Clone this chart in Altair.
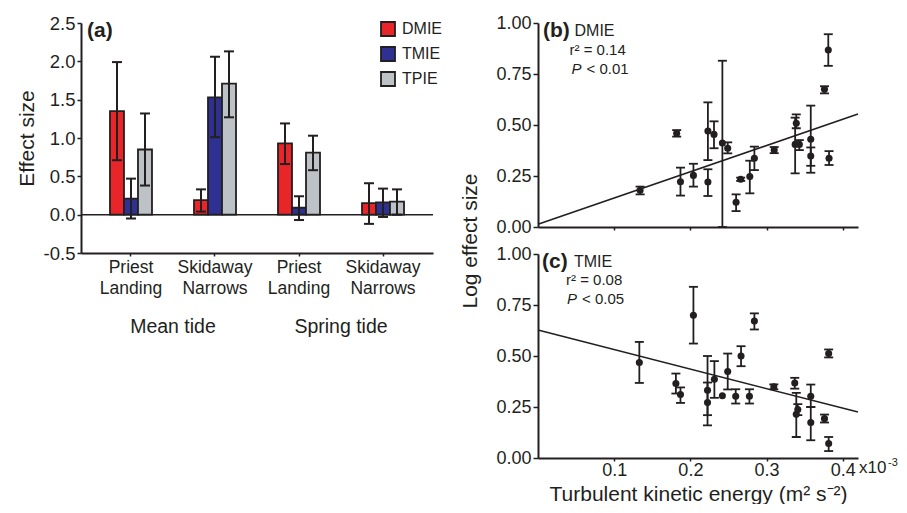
import altair as alt
import pandas as pd

FONT = "Liberation Sans"
INK = "#231F20"

# ---------------- panel (a) data ----------------
tides = ["Mean tide", "Mean tide", "Spring tide", "Spring tide"]
sites = ["Priest Landing", "Skidaway Narrows", "Priest Landing", "Skidaway Narrows"]
series = ["DMIE", "TMIE", "TPIE"]
series_colors = ["#E8262A", "#2E3192", "#BDC2C6"]

dmie = [1.35, 0.19, 0.93, 0.15]
dmie_lo = [0.71, 0.04, 0.66, -0.12]
dmie_hi = [1.99, 0.33, 1.19, 0.41]
tmie = [0.21, 1.53, 0.09, 0.16]
tmie_lo = [-0.05, 1.01, -0.07, -0.03]
tmie_hi = [0.47, 2.06, 0.24, 0.34]
tpie = [0.85, 1.71, 0.81, 0.17]
tpie_lo = [0.38, 1.27, 0.58, 0.00]
tpie_hi = [1.32, 2.13, 1.03, 0.33]

y_ticks_a = [-0.5, 0.0, 0.5, 1.0, 1.5, 2.0, 2.5]

# ---------------- panel (b) DMIE data ----------------
b_tke = [0.134, 0.182, 0.187, 0.204, 0.223, 0.223, 0.231, 0.242, 0.249, 0.260, 0.266,
         0.278, 0.284, 0.310, 0.339, 0.3375, 0.343, 0.358, 0.358, 0.376, 0.382, 0.381]
b_val = [0.180, 0.459, 0.222, 0.253, 0.470, 0.221, 0.454, 0.412, 0.386, 0.121, 0.234,
         0.247, 0.337, 0.377, 0.508, 0.405, 0.405, 0.430, 0.348, 0.675, 0.337, 0.868]
b_lo = [0.160, 0.443, 0.154, 0.198, 0.328, 0.152, 0.386, 0.000, 0.361, 0.078, 0.226,
        0.165, 0.279, 0.362, 0.484, 0.263, 0.377, 0.266, 0.300, 0.655, 0.304, 0.790]
b_hi = [0.198, 0.475, 0.291, 0.310, 0.611, 0.283, 0.518, 0.815, 0.415, 0.160, 0.242,
        0.325, 0.394, 0.392, 0.552, 0.536, 0.426, 0.595, 0.390, 0.690, 0.372, 0.945]

# ---------------- panel (c) TMIE data ----------------
c_tke = [0.133, 0.181, 0.187, 0.204, 0.2225, 0.2225, 0.2315, 0.242, 0.249, 0.2595, 0.2665,
         0.2775, 0.284, 0.3095, 0.337, 0.339, 0.341, 0.358, 0.358, 0.376, 0.3815, 0.3815]
c_val = [0.468, 0.365, 0.311, 0.700, 0.332, 0.272, 0.386, 0.305, 0.424, 0.303, 0.500,
         0.303, 0.671, 0.349, 0.368, 0.214, 0.238, 0.303, 0.174, 0.193, 0.512, 0.071]
c_lo = [0.368, 0.316, 0.270, 0.561, 0.210, 0.160, 0.295, 0.305, 0.336, 0.267, 0.450,
        0.267, 0.630, 0.337, 0.340, 0.103, 0.210, 0.250, 0.087, 0.174, 0.493, 0.034]
c_hi = [0.569, 0.414, 0.346, 0.839, 0.500, 0.370, 0.475, 0.305, 0.512, 0.337, 0.548,
        0.337, 0.709, 0.361, 0.393, 0.319, 0.264, 0.360, 0.250, 0.213, 0.532, 0.103]

# regression lines (end points)
fit_tke = [0.0, 0.42]
b_fit = [0.013, 0.554]
c_fit = [0.627, 0.225]

x_ticks_bc = [0.1, 0.2, 0.3, 0.4]
y_ticks_bc = [0.0, 0.25, 0.5, 0.75, 1.0]

# ---------------- build panel (a) ----------------
cats = [t + "|" + s for t, s in zip(tides, sites)]
rows = []
for name, v, lo, hi in [("DMIE", dmie, dmie_lo, dmie_hi),
                        ("TMIE", tmie, tmie_lo, tmie_hi),
                        ("TPIE", tpie, tpie_lo, tpie_hi)]:
    for i, c in enumerate(cats):
        rows.append({"cat": c, "series": name, "value": v[i], "lo": lo[i], "hi": hi[i]})
df_a = pd.DataFrame(rows)

xa_scale = alt.Scale(domain=cats, paddingInner=0.5, paddingOuter=0.345)
xa_axis = alt.Axis(title=None, labelAngle=0,
                   labelExpr="split(split(datum.value, '|')[1], ' ')",
                   labelFontSize=17.5, labelLineHeight=21, tickSize=3, labelPadding=2)
ya_scale = alt.Scale(domain=[-0.5, 2.5], nice=False)
ya_axis = alt.Axis(title="Effect size", values=y_ticks_a,
                   labelExpr="datum.value < 0 ? '-' + format(-datum.value, '.1f') : format(datum.value, '.1f')",
                   labelFontSize=18.5, tickSize=4, labelPadding=2,
                   titleFontSize=21, titlePadding=6)
xoff = alt.XOffset("series:N", scale=alt.Scale(domain=series, paddingInner=0, paddingOuter=0))
XA = alt.X("cat:N", scale=xa_scale, axis=xa_axis)

bars = alt.Chart(df_a).mark_bar(stroke=INK, strokeWidth=1.8).encode(
    x=XA, xOffset=xoff,
    y=alt.Y("value:Q", scale=ya_scale, axis=ya_axis),
    y2=alt.datum(0),
    color=alt.Color("series:N", scale=alt.Scale(domain=series, range=series_colors),
                    legend=alt.Legend(title=None, orient="none", legendX=299, legendY=-2,
                                      symbolType="square", symbolSize=196,
                                      symbolStrokeColor=INK, symbolStrokeWidth=1.8,
                                      symbolOpacity=1, labelFontSize=16, labelFont=FONT,
                                      labelColor=INK, rowPadding=3, labelOffset=6, padding=0)),
)
zero_line = alt.Chart(pd.DataFrame({"z": [0.0]})).mark_rule(color=INK, strokeWidth=1.5).encode(
    y=alt.Y("z:Q", scale=ya_scale, axis=ya_axis))
err_a = alt.Chart(df_a).mark_rule(color=INK, strokeWidth=2).encode(
    x=XA, xOffset=xoff,
    y=alt.Y("lo:Q", scale=ya_scale, axis=ya_axis), y2="hi:Q")
cap_a = alt.Chart(df_a).transform_fold(["lo", "hi"], as_=["end", "v"]).mark_tick(
    color=INK, thickness=2, size=10, orient="horizontal", opacity=1).encode(
    x=XA, xOffset=xoff, y=alt.Y("v:Q", scale=ya_scale, axis=ya_axis))
group_lab = alt.Chart(pd.DataFrame({"cat": [cats[0], cats[2]], "label": [tides[0], tides[2]]})).mark_text(
    font=FONT, fontSize=19.5, color=INK, dx=42, baseline="middle").encode(
    x=XA, y=alt.value(303.5), text="label:N")


def note(text, x, y, size, weight="normal", style="normal", baseline="middle"):
    return alt.Chart(pd.DataFrame({"t": [text]})).mark_text(
        align="left", baseline=baseline, font=FONT, fontSize=size, fontWeight=weight,
        fontStyle=style, color=INK, x=x, y=y).encode(text="t:N")


panel_a = alt.layer(bars, zero_line, err_a, cap_a, group_lab,
                    note("(a)", 6, 7.5, 21, weight="bold")).properties(width=352, height=230)


# ---------------- build panels (b) and (c) ----------------
def scatter(tke, val, lo, hi, fit, show_x, labels, ytitle):
    df = pd.DataFrame({"tke": tke, "val": val, "lo": lo, "hi": hi})
    df_fit = pd.DataFrame({"tke": fit_tke, "val": fit})
    xs = alt.Scale(domain=[0, 0.42], nice=False, zero=False)
    ys = alt.Scale(domain=[0, 1], nice=False)
    if show_x:
        xax = alt.Axis(values=x_ticks_bc, format=".1f", tickSize=3, labelPadding=0,
                       labelFontSize=18, title="Turbulent kinetic energy (m² s⁻²)",
                       titleFontSize=21, titlePadding=4)
    else:
        xax = alt.Axis(values=x_ticks_bc, labels=False, tickSize=3, title=None)
    if ytitle:
        yax = alt.Axis(values=y_ticks_bc, format=".2f", tickSize=5, labelPadding=2,
                       labelFontSize=18, title=ytitle, titleFontSize=21,
                       titleX=-67.5, titleY=217.5, titleBaseline="middle", titleAlign="center")
    else:
        yax = alt.Axis(values=y_ticks_bc, format=".2f", tickSize=5, labelPadding=2,
                       labelFontSize=18, title=None)
    X = alt.X("tke:Q", scale=xs, axis=xax)
    fit_line = alt.Chart(df_fit).mark_line(color=INK, strokeWidth=1.6).encode(
        x=X, y=alt.Y("val:Q", scale=ys, axis=yax))
    rules = alt.Chart(df).mark_rule(color=INK, strokeWidth=1.8).encode(
        x=X, y=alt.Y("lo:Q", scale=ys, axis=yax), y2="hi:Q")
    caps = alt.Chart(df).transform_filter("datum.hi > datum.lo").transform_fold(
        ["lo", "hi"], as_=["end", "v"]).mark_tick(
        color=INK, thickness=1.8, size=9, orient="horizontal", opacity=1).encode(
        x=X, y=alt.Y("v:Q", scale=ys, axis=yax))
    dots = alt.Chart(df).mark_circle(color=INK, opacity=1, size=50).encode(
        x=X, y=alt.Y("val:Q", scale=ys, axis=yax))
    layers = [fit_line, rules, caps, dots] + labels
    return alt.layer(*layers).properties(width=320, height=204)


panel_b = scatter(b_tke, b_val, b_lo, b_hi, b_fit, False, [
    note("(b)", 5, 7.5, 21, weight="bold"),
    note("DMIE", 36.5, 8, 16),
    note("r² = 0.14", 31.5, 26.5, 15),
    note("P", 33.5, 45.5, 15, style="italic"),
    note("< 0.01", 48.5, 45.5, 15),
], "Log effect size")

panel_c = scatter(c_tke, c_val, c_lo, c_hi, c_fit, True, [
    note("(c)", 4, 7.7, 21, weight="bold"),
    note("TMIE", 36, 8, 16),
    note("r² = 0.08", 28, 26, 15),
    note("P", 29, 45, 15, style="italic"),
    note("< 0.05", 44, 45, 15),
    note("x10", 321, 219, 17, baseline="alphabetic"),
    note("-3", 350, 212, 11, baseline="alphabetic"),
], None)

right = alt.vconcat(panel_b, panel_c, spacing=27, bounds="flush")
chart = alt.hconcat(panel_a, right, spacing=105, bounds="flush").properties(
    padding={"left": 8, "top": 6, "right": 0, "bottom": 0}
).configure_view(stroke=None).configure_axis(
    domainColor=INK, tickColor=INK, labelColor=INK, titleColor=INK,
    labelFont=FONT, titleFont=FONT, domainWidth=2, tickWidth=1.5, grid=False,
    titleFontWeight="normal")

chart.save("out.html", embed_options={"renderer": "svg", "actions": False})
